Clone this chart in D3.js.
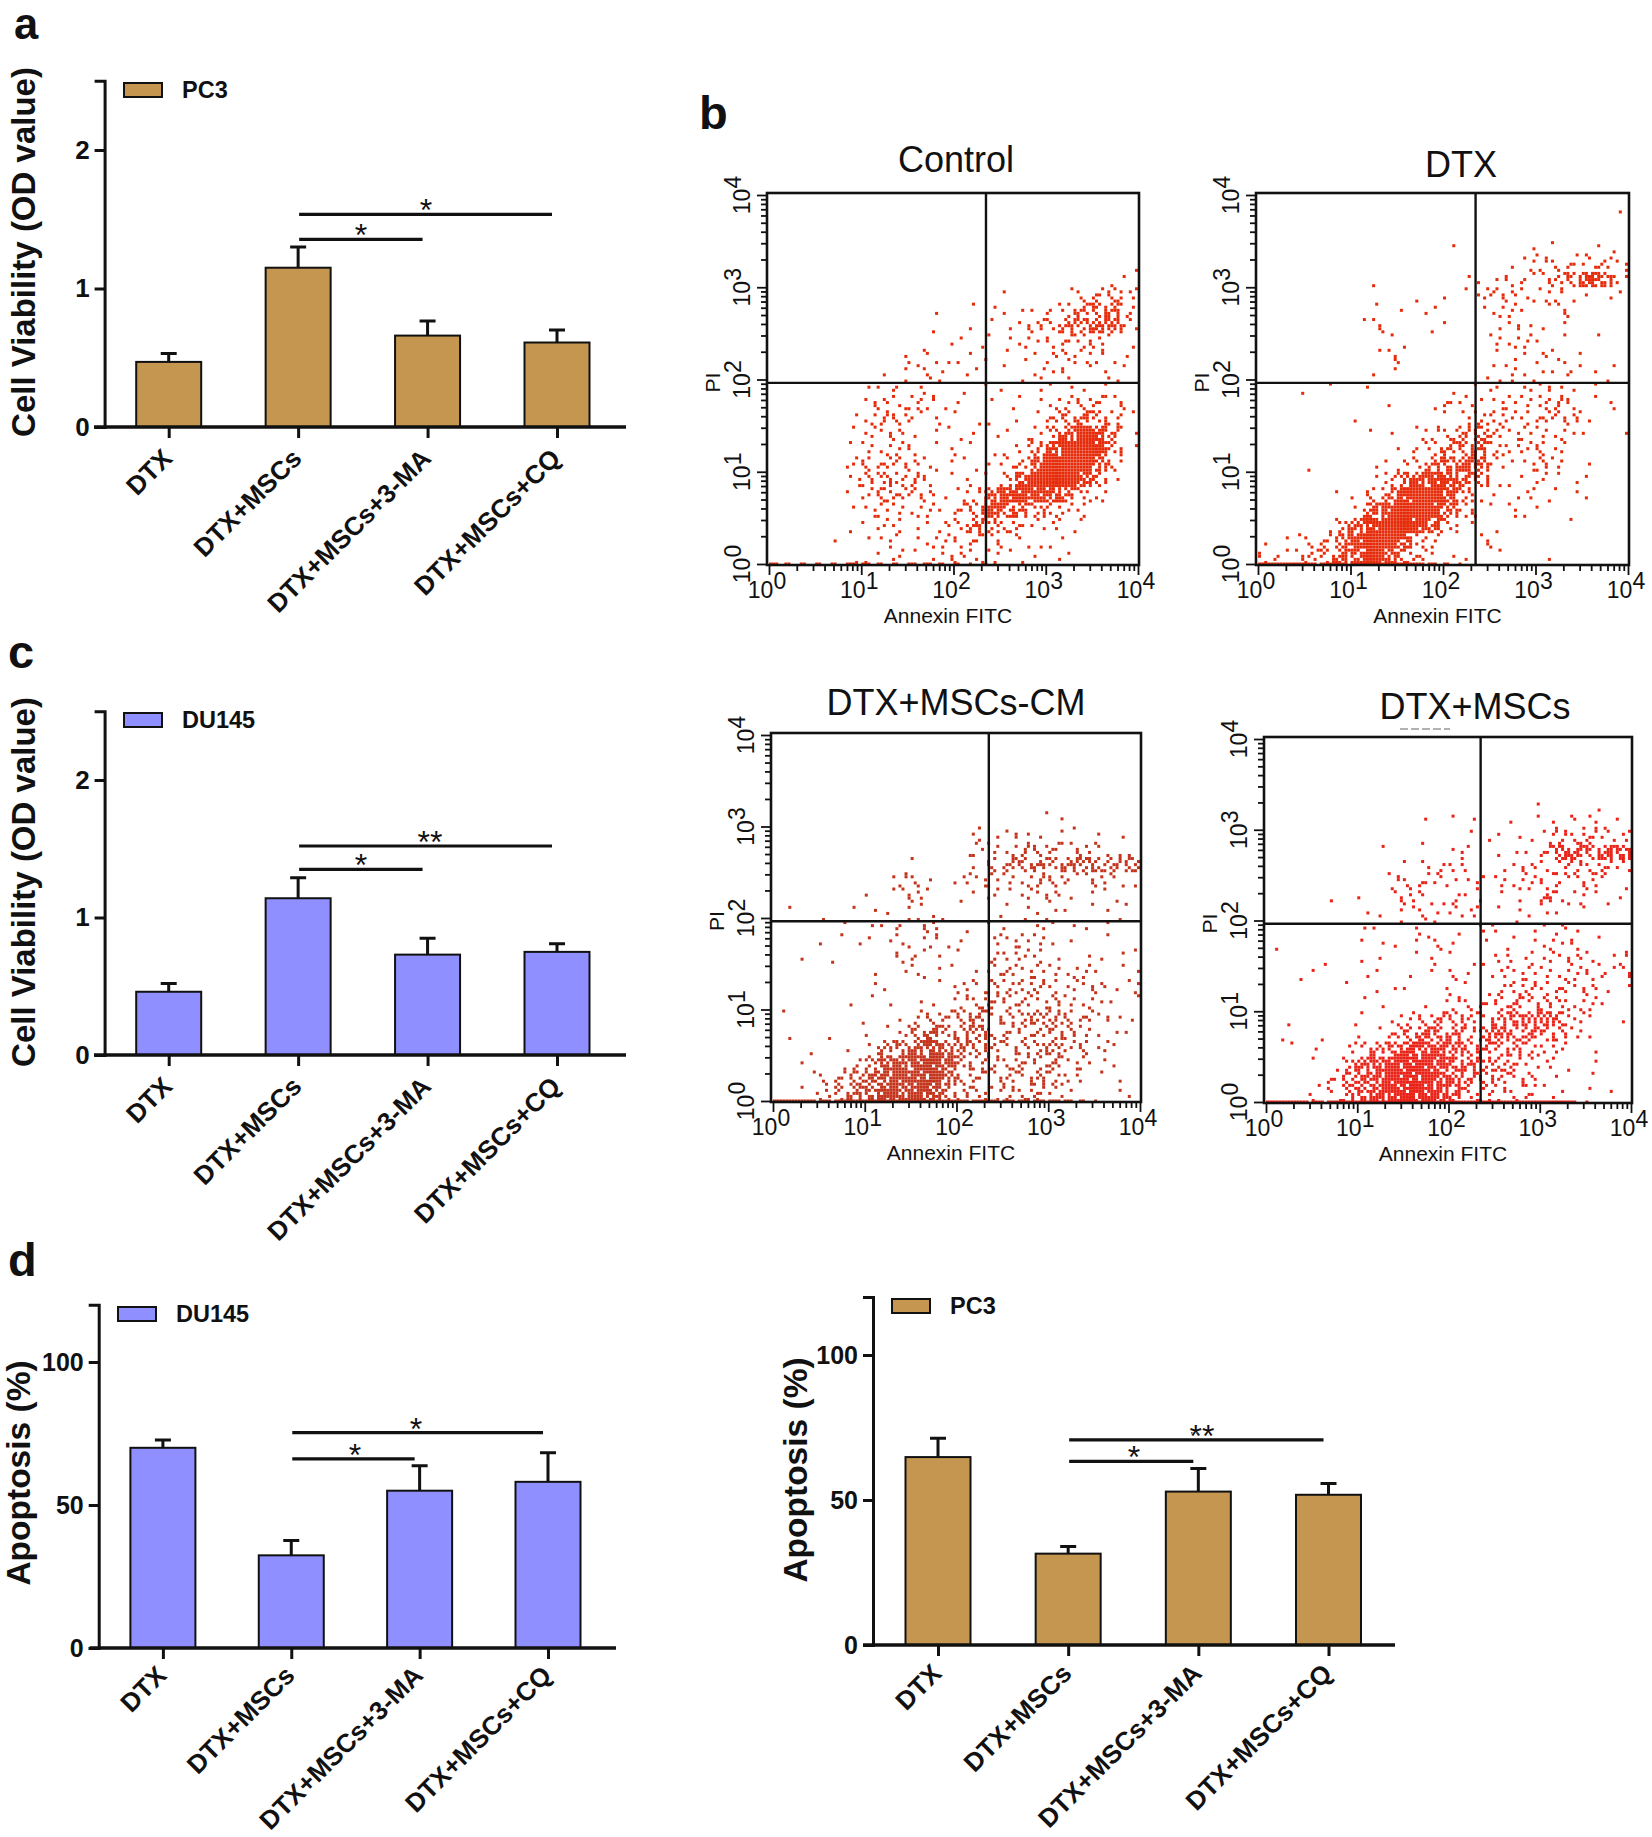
<!DOCTYPE html>
<html><head><meta charset="utf-8">
<script src="https://cdnjs.cloudflare.com/ajax/libs/d3/7.8.5/d3.min.js"></script>
<style>html,body{margin:0;background:#fff}svg{display:block}text{font-family:"Liberation Sans",Arial,sans-serif;fill:#111}</style>
</head><body><svg id="c" width="1652" height="1837"></svg>
<script>
// ---- bar chart data ----
const categories = ["DTX","DTX+MSCs","DTX+MSCs+3-MA","DTX+MSCs+CQ"];
const viabilityPC3 = [0.47,1.15,0.66,0.61];
const viabilityPC3Err = [0.53,1.30,0.765,0.70];
const viabilityDU145 = [0.46,1.14,0.73,0.75];
const viabilityDU145Err = [0.52,1.29,0.85,0.81];
const apoptosisDU145 = [70,32.4,55,58.1];
const apoptosisDU145Err = [72.7,37.6,63.7,68.3];
const apoptosisPC3 = [64.8,31.5,52.9,51.8];
const apoptosisPC3Err = [71.3,34,60.9,55.7];
const viabilityTicks = [0,1,2];
const apoptosisTicks = [0,50,100];
const flowDecades = [1,10,100,1000,10000];
const quadrantAnnexin = 225, quadrantPI = 92;

// ---- flow cytometry data ----
// Approximation: individual events cannot be read from the picture. Each grid is an eye-estimated
// density level (0-9) per 1/6-decade cell, top row = PI 10^4, left column = Annexin 10^0. Dots inside
// a cell follow a fixed stipple order, so they show density only and are not measured event positions.
const controlGrid = [
"000000000000000000000000","000000000000000000000000","000000000000000000000000","000000000000000000000000",
"000000000000000000000001","000000000000000000000011","000000000000000100012342","000000000010011111234552",
"000000000010011123355662","000000000001111121233211","000000001121111111232211","000000011121110102121111",
"000000112111101111111110","000000222321101111223321","000001233211111011345431","000001222111111112469741",
"000001222211111124799841","000002333221111237999630","000002343321111379997410","000001243321226888753200",
"000001222221348654322000","000001122112354322211000","000010121122232121110000","000001112112222111110000"];
const controlFloor = "322223322332211000000000";
const dtxGrid = [
"000000000000000000000000","000000000000000000000001","000000000000000000000000","000000000000100001111111",
"000000000000000012222232","000000010000011122235762","000000000010112322221111","000000010111001221121000",
"000000121001100121110000","000000001100000222110010","000000012100000111221000","000000011000001121112101",
"001010010000101212211110","000000001001221222332111","000000100000123322333100","000000011022345322221101",
"000000000123455322320000","000100011235676212320100","000000013578755111211100","000001135899741112111100",
"000000268998631121100000","000014689986310100001000","111236899732002100000000","222346797431110100100000"];
const dtxFloor = "555444555543210000000000";
const cmGrid = [
"000000000000000000000000","000000000000000000000000","000000000000000000000000","000000000000000000000000",
"000000000000000000000000","000000000000000001100000","000000000000021211110110","000000000000122233322211",
"000000000100013444455445","000000012211222223322221","000000112210112122211110","010001111110001111111101",
"000110112221101112111110","000111112121102222110100","010100002210102222101111","000000101211012322222111",
"000000110011223333222212","000001110111233332322111","100001001233443344433211","010100112454452333432111",
"001010245675543334423210","010012477887433333422110","001235678886332334321110","011245687874332333210011"];
const cmFloor = "554455555555443444432100";
const mscGrid = [
"000000000000000000000000","000000000000000000000000","000000000000000000000000","000000000000000000000000",
"000000000000000001000100","000000000010110011112211","000000000010011111233322","000000010000210111365566",
"000000001122210122233332","000000002222121222222211","000010102221211110422111","000000111121220111111000",
"000000111111102111121000","100000111112101111212100","000100110111111212222212","001100110110211222222222",
"000001011101111233232211","000000110011222343332210","010001102234433465642101","010100113465535645432100",
"010102346777644443220100","000114678887654432210100","000125678887644333110100","001124678887533222110110"];
const mscFloor = "554455555555555555552100";
const levelCounts = [0,1,3,5,8,11,14,18,22,25];
const stipple = [12,3,21,8,17,0,24,6,14,19,2,10,22,5,16,9,23,1,13,20,7,18,4,11,15];

const svg = d3.select("#c");
const PC3 = "#c49650", DU = "#8f8fff";

function barChart(o){
  const g = svg.append("g");
  const x = d3.scalePoint().domain(categories).range(o.xr);
  const y = d3.scaleLinear().domain([0,o.ymax]).range([o.y0,o.y0-o.pxPerUnit*o.ymax]);
  const bw = 65;
  g.selectAll(".e").data(categories).join("path")
    .attr("d",(c,i)=>`M${x(c)},${y(o.values[i])}V${y(o.err[i])}M${x(c)-8},${y(o.err[i])}H${x(c)+8}`)
    .attr("stroke","#111").attr("stroke-width",3).attr("fill","none");
  g.selectAll(".b").data(categories).join("rect")
    .attr("x",c=>x(c)-bw/2).attr("width",bw)
    .attr("y",(c,i)=>y(o.values[i])).attr("height",(c,i)=>o.y0-y(o.values[i]))
    .attr("fill",o.color).attr("stroke","#111").attr("stroke-width",2);
  const ay = g.append("g").attr("transform",`translate(${o.axisX},0)`)
    .call(d3.axisLeft(y).tickValues(o.ticks).tickSize(10).tickFormat(d3.format("d")));
  ay.select(".domain").attr("stroke","#111").attr("stroke-width",3);
  ay.selectAll("line").attr("stroke","#111").attr("stroke-width",3);
  ay.selectAll("text").attr("font-size",o.tickFont).attr("font-weight","bold").attr("dx",-2).attr("fill","#111");
  const ax = g.append("g").attr("transform",`translate(0,${o.y0})`)
    .call(d3.axisBottom(x).tickSize(11).tickFormat(""));
  ax.select(".domain").remove();
  ax.selectAll("line").attr("stroke","#111").attr("stroke-width",3);
  g.append("line").attr("x1",o.xline[0]).attr("x2",o.xline[1]).attr("y1",o.y0).attr("y2",o.y0).attr("stroke","#111").attr("stroke-width",3.5);
  g.selectAll(".l").data(categories).join("text").text(c=>c)
    .attr("transform",c=>`translate(${x(c)+5},${o.y0+o.catDrop}) rotate(-45)`)
    .attr("text-anchor","end").attr("font-size",o.catFont).attr("font-weight","bold");
  o.sig.forEach(s=>{
    g.append("line").attr("x1",x(categories[1])+1).attr("x2",x(categories[s.to])-5)
      .attr("y1",y(s.v)).attr("y2",y(s.v)).attr("stroke","#111").attr("stroke-width",3.2);
    g.append("text").text(s.t).attr("x",s.sx).attr("y",y(s.v)+7).attr("text-anchor","middle").attr("font-size",32);
  });
  g.append("text").text(o.ylabel).attr("transform",`translate(${o.labelX},${o.labelY}) rotate(-90)`)
    .attr("text-anchor","middle").attr("font-size",o.labelFont).attr("font-weight","bold");
  g.append("rect").attr("x",o.leg[0]).attr("y",o.leg[1]).attr("width",38).attr("height",14).attr("fill",o.color).attr("stroke","#111").attr("stroke-width",2);
  g.append("text").text(o.legend).attr("x",o.leg[0]+58).attr("y",o.leg[1]+15).attr("font-size",23.5).attr("font-weight","bold");
}

function flow(o){
  const g = svg.append("g");
  const x = d3.scaleLog().domain([1,1e4]).range([o.l+2,o.r-1]);
  const y = d3.scaleLog().domain([1,1e4]).range([o.b-1,o.t+2]);
  const pts=[];
  o.grid.forEach((row,r)=>{ for(let c=0;c<24;c++){ const n=levelCounts[+row[c]]; const st=(r*7+c*11)%25;
    for(let i=0;i<n;i++){ const s=stipple[(st+i)%25]; const sx=s%5, sy=Math.floor(s/5);
      pts.push([Math.pow(10,(c+(sx+.5)/5)/6),Math.pow(10,4-(r+(sy+.5)/5)/6)]); } } });
  for(let c=0;c<24;c++){ const n=+o.floor[c]; for(let i=0;i<n;i++) pts.push([Math.pow(10,(c+(i+.5)/5)/6),1]); }
  g.selectAll(".p").data(pts).join("rect")
    .attr("x",d=>x(d[0])-1.5).attr("y",d=>y(d[1])-1.5)
    .attr("width",3).attr("height",3).attr("fill",o.color);
  g.append("rect").attr("x",o.l).attr("y",o.t).attr("width",o.r-o.l).attr("height",o.b-o.t)
    .attr("fill","none").attr("stroke","#111").attr("stroke-width",2.6);
  g.append("line").attr("x1",x(quadrantAnnexin)).attr("x2",x(quadrantAnnexin)).attr("y1",o.t).attr("y2",o.b).attr("stroke","#111").attr("stroke-width",2.4);
  g.append("line").attr("x1",o.l).attr("x2",o.r).attr("y1",y(quadrantPI)).attr("y2",y(quadrantPI)).attr("stroke","#111").attr("stroke-width",2.4);
  const minors = x.ticks();
  const ax = g.append("g").attr("transform",`translate(0,${o.b})`).call(d3.axisBottom(x).tickValues(minors).tickSize(6).tickFormat(""));
  const ay = g.append("g").attr("transform",`translate(${o.l},0)`).call(d3.axisLeft(y).tickValues(minors).tickSize(6).tickFormat(""));
  [ax,ay].forEach(a=>{ a.select(".domain").remove();
    a.selectAll("line").attr("stroke","#111").attr("stroke-width",1.8); });
  ax.selectAll(".tick line").filter(d=>flowDecades.includes(d)).attr("y2",10);
  ay.selectAll(".tick line").filter(d=>flowDecades.includes(d)).attr("x2",-10);
  flowDecades.forEach((d,i)=>{
    const tx=g.append("text").attr("x",x(d)-2).attr("y",o.b+33).attr("text-anchor","middle").attr("font-size",23).attr("fill","#222");
    tx.append("tspan").text("10"); tx.append("tspan").text(i).attr("dy",-9);
    const ty=g.append("text").attr("transform",`translate(${o.l-17},${y(d)}) rotate(-90)`).attr("text-anchor","middle").attr("font-size",23).attr("fill","#222");
    ty.append("tspan").text("10"); ty.append("tspan").text(i).attr("dy",-9);
  });
  g.append("text").text("Annexin FITC").attr("x",(o.l+o.r)/2-5).attr("y",o.b+58).attr("text-anchor","middle").attr("font-size",21).attr("fill","#222");
  g.append("text").text("PI").attr("transform",`translate(${o.l-47},${y(100)+3}) rotate(-90)`).attr("text-anchor","middle").attr("font-size",21).attr("fill","#222");
  g.append("text").text(o.title).attr("x",o.tx).attr("y",o.ty).attr("text-anchor","middle").attr("font-size",36);
}

barChart({values:viabilityPC3,err:viabilityPC3Err,color:PC3,xr:[168.7,557],xline:[94,626],y0:427,pxPerUnit:138.5,ymax:2.5,axisX:104.6,catDrop:33,
  ticks:viabilityTicks,tickFont:26,catFont:26,ylabel:"Cell Viability (OD value)",labelX:34.5,labelY:252,labelFont:33,legend:"PC3",leg:[124,83],
  sig:[{to:2,v:1.355,t:"*",sx:361},{to:3,v:1.535,t:"*",sx:426}]});
barChart({values:viabilityDU145,err:viabilityDU145Err,color:DU,xr:[168.7,557],xline:[94,626],y0:1055,pxPerUnit:137.5,ymax:2.5,axisX:104.6,catDrop:33,
  ticks:viabilityTicks,tickFont:26,catFont:26,ylabel:"Cell Viability (OD value)",labelX:34.5,labelY:882,labelFont:33,legend:"DU145",leg:[124,713],
  sig:[{to:2,v:1.35,t:"*",sx:361},{to:3,v:1.52,t:"**",sx:430}]});
barChart({values:apoptosisDU145,err:apoptosisDU145Err,color:DU,xr:[162.9,548],xline:[89.7,616],y0:1648,pxPerUnit:2.86,ymax:120,axisX:98.7,catDrop:29,
  ticks:apoptosisTicks,tickFont:25,catFont:26,ylabel:"Apoptosis (%)",labelX:30,labelY:1473,labelFont:33.5,legend:"DU145",leg:[118,1307],
  sig:[{to:2,v:66.1,t:"*",sx:355},{to:3,v:75.3,t:"*",sx:416}]});
barChart({values:apoptosisPC3,err:apoptosisPC3Err,color:PC3,xr:[938,1328.5],xline:[863,1395],y0:1645,pxPerUnit:2.9,ymax:120,axisX:873,catDrop:30,
  ticks:apoptosisTicks,tickFont:25,catFont:26,ylabel:"Apoptosis (%)",labelX:807,labelY:1470,labelFont:33.5,legend:"PC3",leg:[892,1299],
  sig:[{to:2,v:63.3,t:"*",sx:1134},{to:3,v:70.7,t:"**",sx:1202}]});
// small specks beside the ** in the source image
[[1191,1432],[1196,1432]].forEach(p=>svg.append("rect").attr("x",p[0]).attr("y",p[1]).attr("width",1.6).attr("height",1.6).attr("fill","#555"));

flow({grid:controlGrid,floor:controlFloor,color:"#e62b0a",l:767,r:1139,t:193,b:565,title:"Control",tx:956,ty:172});
flow({grid:dtxGrid,floor:dtxFloor,color:"#e62b0a",l:1256,r:1629,t:193,b:565,title:"DTX",tx:1461,ty:177});
flow({grid:cmGrid,floor:cmFloor,color:"#c4341c",l:771,r:1141,t:733,b:1102,title:"DTX+MSCs-CM",tx:956,ty:715});
flow({grid:mscGrid,floor:mscFloor,color:"#ea2318",l:1264,r:1632,t:737,b:1103,title:"DTX+MSCs",tx:1475,ty:719});
svg.append("line").attr("x1",1400).attr("x2",1450).attr("y1",729).attr("y2",729).attr("stroke","#999").attr("stroke-width",1.5).attr("stroke-dasharray","8 3");

[["a",14,39,43.5],["b",699,129,47],["c",8,668,47],["d",8,1276,47]].forEach(d=>{
  svg.append("text").text(d[0]).attr("x",d[1]).attr("y",d[2]).attr("font-size",d[3]).attr("font-weight","bold").attr("fill","#000");
});
</script></body></html>
